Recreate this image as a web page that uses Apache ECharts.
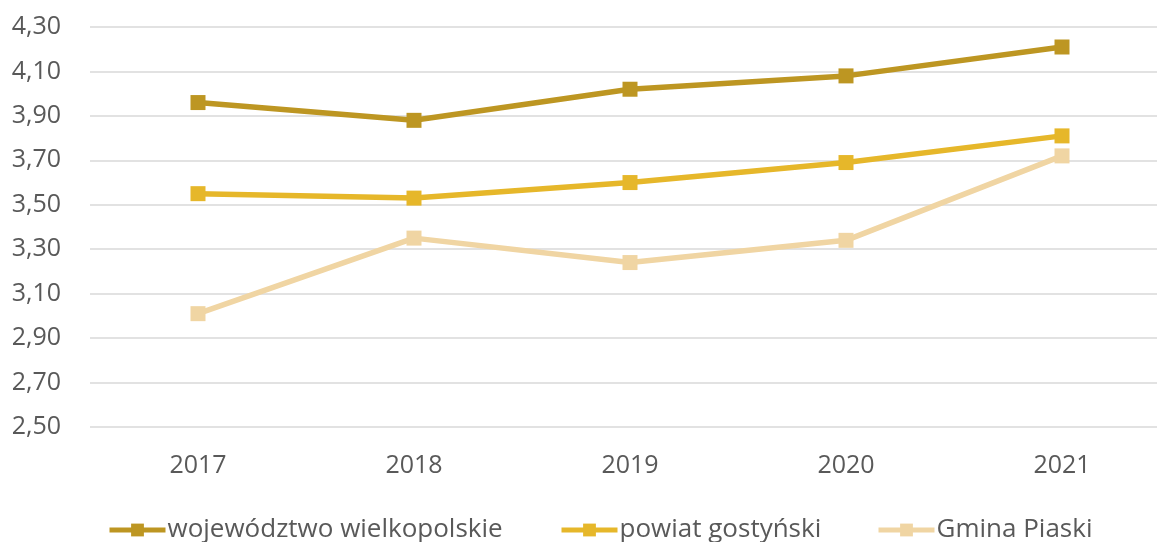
<!DOCTYPE html>
<html>
<head>
<meta charset="utf-8">
<script src="https://cdn.jsdelivr.net/npm/echarts@6/dist/echarts.min.js"></script>
<style>
  html, body { margin: 0; padding: 0; background: #fff; }
  #chart { width: 1157px; height: 542px; }
</style>
</head>
<body>
<div id="chart"></div>
<script>
// chart data
const years = ['2017', '2018', '2019', '2020', '2021']
const wojewodztwo = [3.96, 3.88, 4.02, 4.08, 4.21]
const powiat = [3.55, 3.53, 3.60, 3.69, 3.81]
const gmina = [3.01, 3.35, 3.24, 3.34, 3.72]
const names = ['województwo wielkopolskie', 'powiat gostyński', 'Gmina Piaski']

const font = '"Open Sans", "Noto Sans", sans-serif'
const textColor = '#595959'

function lineSeries(name, data, color) {
  return {
    name: name,
    type: 'line',
    data: data,
    symbol: 'rect',
    symbolSize: 15,
    itemStyle: { color: color },
    lineStyle: { color: color, width: 5.5 },
    emphasis: { disabled: true },
    animation: false
  }
}

// one legend per item so each can sit where it does in the original
function legendAt(left, name) {
  return {
    left: left,
    top: 517,
    padding: 0,
    itemWidth: 56,
    itemHeight: 16,
    lineStyle: { width: 5 },
    textStyle: { color: textColor, fontSize: 26, fontFamily: font, padding: [0, 0, 0, -3] },
    data: [name]
  }
}

const chart = echarts.init(document.getElementById('chart'))
chart.setOption({
  backgroundColor: '#fff',
  textStyle: { fontFamily: font },
  grid: {
    left: 90,
    width: 1080,
    top: 27,
    height: 400,
    outerBoundsMode: 'none'
  },
  xAxis: {
    type: 'category',
    data: years,
    boundaryGap: true,
    axisLine: { show: false },
    axisTick: { show: false },
    axisLabel: {
      color: textColor,
      fontSize: 25,
      fontFamily: font,
      margin: 26
    }
  },
  yAxis: {
    type: 'value',
    min: 2.5,
    max: 4.3,
    interval: 0.2,
    axisLine: { show: false },
    axisTick: { show: false },
    splitLine: { lineStyle: { color: '#d9d9d9', width: 1.5 } },
    axisLabel: {
      color: textColor,
      fontSize: 25,
      fontFamily: font,
      margin: 29,
      formatter: v => v.toFixed(2).replace('.', ',')
    }
  },
  legend: [
    legendAt(107, names[0]),
    legendAt(559, names[1]),
    legendAt(876, names[2])
  ],
  series: [
    lineSeries(names[0], wojewodztwo, '#bd9622'),
    lineSeries(names[1], powiat, '#e6b72a'),
    lineSeries(names[2], gmina, '#f0d5a3')
  ]
})
</script>
</body>
</html>
